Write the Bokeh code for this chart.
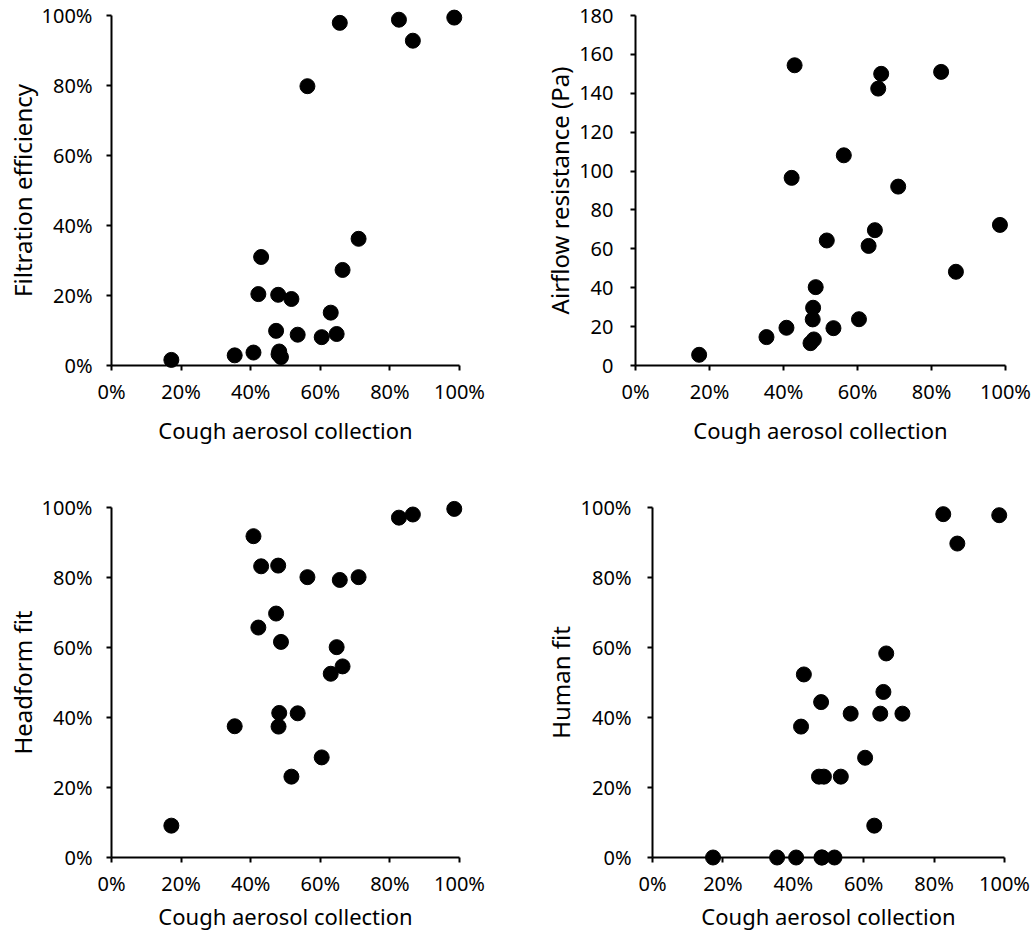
from bokeh.plotting import figure
from bokeh.layouts import column, row
from bokeh.models import Range1d, FixedTicker, NumeralTickFormatter
from bokeh.embed import file_html
from bokeh.resources import INLINE

# Cough aerosol collection (%) shared by all four panels
cough = [17.2, 35.4, 40.8, 42.2, 43.0, 47.3, 47.9, 48.2, 48.0, 48.7, 51.7,
         53.5, 56.3, 60.4, 63.0, 64.7, 65.6, 66.4, 71.0, 82.6, 86.6, 98.5]
# Filtration efficiency (%)
filtration = [1.6, 2.9, 3.7, 20.4, 31.0, 9.9, 20.2, 4.0, 3.2, 2.4, 19.0,
              8.8, 79.8, 8.1, 15.1, 9.0, 97.9, 27.3, 36.2, 98.8, 92.8, 99.4]
# Airflow resistance (Pa)
airflow = [5.5, 14.6, 19.4, 96.5, 154.4, 11.5, 23.7, 13.4, 29.7, 40.3, 64.3,
           19.2, 108.1, 23.8, 61.5, 69.6, 142.4, 150.0, 92.0, 151.0, 48.2, 72.3]
# Headform fit (%)
headform = [9.1, 37.5, 91.8, 65.7, 83.2, 69.7, 83.4, 41.3, 37.4, 61.6, 23.1,
            41.2, 80.1, 28.6, 52.5, 60.1, 79.3, 54.6, 80.1, 97.1, 98.0, 99.6]
# Human fit (%)
human = [0.0, 0.0, 0.0, 37.4, 52.3, 23.1, 44.4, 0.0, 0.0, 23.1, 0.0,
         23.1, 41.1, 28.5, 9.1, 41.1, 47.3, 58.3, 41.1, 98.1, 89.7, 97.8]

pct_ticks = [0, 0.2, 0.4, 0.6, 0.8, 1.0]
pa_ticks = [0, 20, 40, 60, 80, 100, 120, 140, 160, 180]
x_title = "Cough aerosol collection"

FONT = "Noto Sans"


def make(yvals, ylabel, pct, width, height, bl, br, bt, bb, ystd, ylstd, xlstd):
    ymax = 1.0 if pct else 180
    p = figure(width=width, height=height, output_backend="svg",
               toolbar_location=None,
               x_range=Range1d(0, 1), y_range=Range1d(0, ymax),
               min_border_left=bl, min_border_right=br,
               min_border_top=bt, min_border_bottom=bb)
    p.outline_line_color = None
    p.grid.visible = False
    p.background_fill_color = "white"
    p.border_fill_color = "white"

    xs = [v / 100 for v in cough]
    ys = [v / 100 for v in yvals] if pct else list(yvals)
    r = p.scatter(xs, ys, size=15, color="black", marker="circle")
    r.level = "overlay"

    p.xaxis.ticker = FixedTicker(ticks=pct_ticks)
    p.xaxis.formatter = NumeralTickFormatter(format="0%")
    if pct:
        p.yaxis.ticker = FixedTicker(ticks=pct_ticks)
        p.yaxis.formatter = NumeralTickFormatter(format="0%")
    else:
        p.yaxis.ticker = FixedTicker(ticks=pa_ticks)

    for ax in (p.xaxis, p.yaxis):
        ax.axis_line_width = 2
        ax.axis_line_color = "black"
        ax.major_tick_line_width = 2
        ax.major_tick_line_color = "black"
        ax.major_tick_in = 0
        ax.major_tick_out = 5
        ax.minor_tick_line_color = None
        ax.major_label_text_font = FONT
        ax.major_label_text_font_size = "20px"
        ax.major_label_text_color = "black"
        ax.axis_label_text_font = FONT
        ax.axis_label_text_font_style = "normal"
        ax.axis_label_text_color = "black"

    p.xaxis.axis_label = x_title
    p.xaxis.axis_label_text_font_size = "22px"
    p.xaxis.major_label_standoff = 7
    p.xaxis.axis_label_standoff = xlstd
    p.yaxis.axis_label = ylabel
    p.yaxis.axis_label_text_font_size = "24px"
    p.yaxis.major_label_standoff = ystd
    p.yaxis.axis_label_standoff = ylstd
    return p


p1 = make(filtration, "Filtration efficiency", True, 539, 488, 111, 80, 15, 122, 14, 0, 7)
p2 = make(airflow, "Airflow resistance (Pa)", False, 496, 488, 96, 30, 15, 123, 17, 0, 7)
p3 = make(headform, "Headform fit", True, 539, 450, 111, 80, 19, 81, 14, 0, 1)
p4 = make(human, "Human fit", True, 496, 450, 113, 31, 19, 81, 16, 1, 1)

layout = column(row(p1, p2, spacing=0), row(p3, p4, spacing=0), spacing=0)

open("out.html", "w").write(file_html(layout, INLINE))
